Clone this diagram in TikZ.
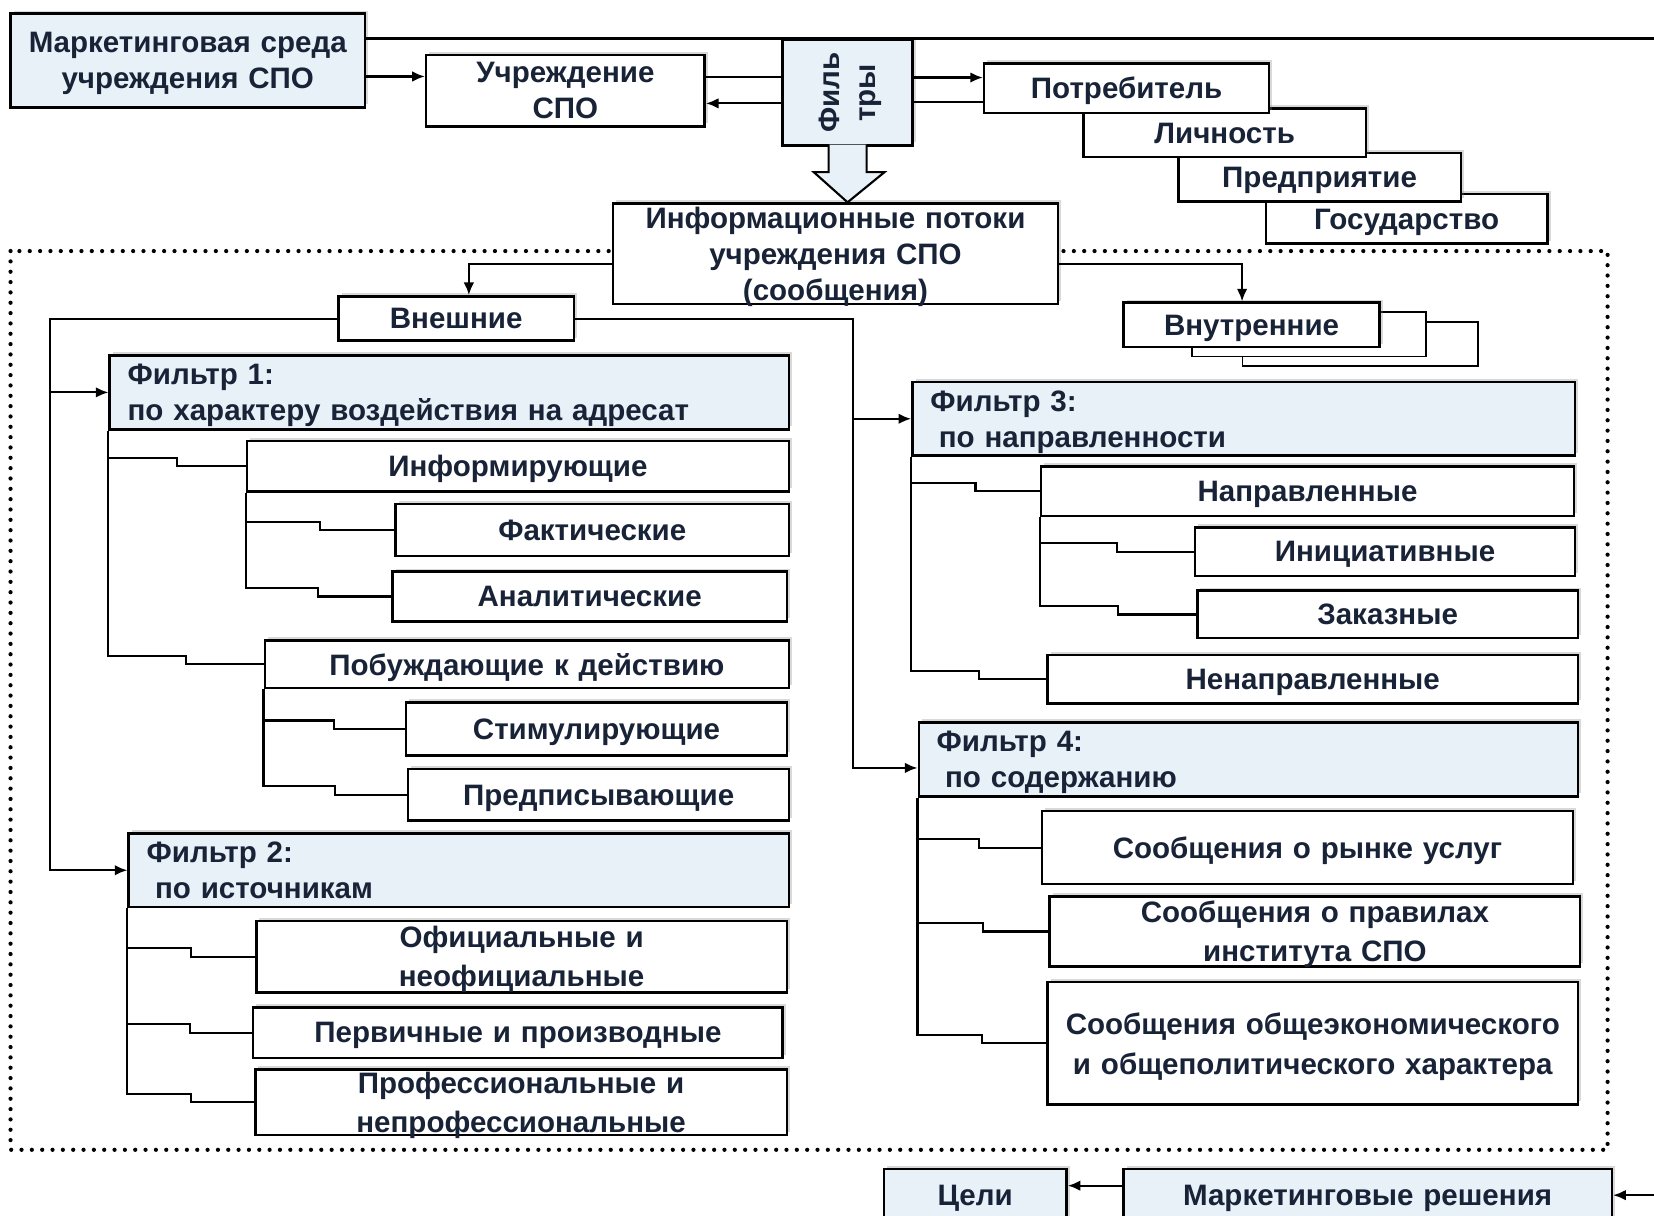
\documentclass[tikz,border=0pt]{standalone}
\usepackage{fontspec}
\setmainfont{Liberation Sans}
\usetikzlibrary{calc,shadows,arrows.meta}
\definecolor{ink}{RGB}{25,35,55}
\definecolor{paleblue}{RGB}{232,241,248}

\begin{document}
\begin{tikzpicture}[x=0.5pt,y=-0.5pt]

    \tikzstyle{box}=[draw=black, line width=1.2pt, fill=white, inner sep=0pt, align=center, text=ink,
        font=\fontsize{14}{17}\selectfont\bfseries, text depth=0pt,
        drop shadow={shadow xshift=1.5pt, shadow yshift=1.5pt, opacity=0.3}]
    \tikzstyle{two}=[text depth=17pt]
    \tikzstyle{twowide}=[text depth=18.5pt, font=\fontsize{14}{18.5}\selectfont\bfseries]
    \tikzstyle{three}=[text depth=34pt]
    \tikzstyle{hl}=[box, fill=paleblue]
    \tikzstyle{filterbox}=[hl, two, align=left, inner xsep=8.5pt]
    \tikzstyle{stackbox}=[draw=black, line width=0.8pt, fill=white]
    \tikzstyle{dotframe}=[draw=black, line width=2pt, line cap=round, dash pattern=on 0pt off 4.9pt]
    \tikzstyle{fwd}=[draw=black, line width=1pt, -{Latex[length=6pt,width=5pt]}]
    \tikzstyle{link}=[draw=black, line width=1pt]

    \def\branch#1#2{\draw[link] (#1) |- ($(#1 |- #2.west)!.5!(#2.west)+(0,-8)$) |- (#2.west);}

    \useasboundingbox (0,0) rectangle (1568,1152);
    \clip (0,0) rectangle (1568,1152);
    \coordinate (rim) at (1575,0);

    % frame round the message flows
    \draw[dotframe] (10,238) rectangle (1524,1090);

    \node[hl, two, text width=168pt, minimum height=44.5pt] (env) at (178,57.5) {Маркетинговая среда\\учреждения СПО};
    \node[box, two, text width=132pt, minimum height=34pt] (inst) at (536,86) {Учреждение\\СПО};
    \node[hl, two, rotate=90, text width=50pt, minimum height=61.5pt] (filt) at (803.5,88) {Филь\\тры};
    \node[box, three, text width=211pt, minimum height=47.5pt] (info) at (792,240.5) {Информационные потоки\\учреждения СПО\\(сообщения)};

    \node[box, text width=133.5pt, minimum height=23.5pt] (state) at (1333.5,207.5) {Государство};
    \node[box, text width=134pt, minimum height=23pt] (firm) at (1251,168) {Предприятие};
    \node[box, text width=134pt, minimum height=23pt] (pers) at (1161,126) {Личность};
    \node[box, text width=135pt, minimum height=23.5pt] (cons) at (1068,83.5) {Потребитель};

    \node[box, text width=111.5pt, minimum height=21pt] (ext) at (432.5,302) {Внешние};
    \draw[stackbox] (1178,305) rectangle (1401,347);
    \draw[stackbox] (1130,296) rectangle (1352,338);
    \node[box, text width=121.5pt, minimum height=21pt] (int) at (1186.5,308) {Внутренние};

    % filter 1
    \node[filterbox, text width=305pt, minimum height=35pt] (f1) at (426,372) {Фильтр 1:\\по характеру воздействия на адресат};
    \node[box, text width=257pt, minimum height=24pt] (inf) at (491,442) {Информирующие};
    \node[box, text width=186.5pt, minimum height=24.5pt] (fact) at (561.5,502.5) {Фактические};
    \node[box, text width=187pt, minimum height=23.5pt] (anal) at (559,565.5) {Аналитические};
    \node[box, text width=248.5pt, minimum height=22.5pt] (pob) at (499.5,629.5) {Побуждающие к действию};
    \node[box, text width=180.5pt, minimum height=25pt] (stim) at (565.5,691) {Стимулирующие};
    \node[box, text width=180.5pt, minimum height=24.5pt] (presc) at (567.5,753.5) {Предписывающие};

    % filter 2
    \node[filterbox, text width=296pt, minimum height=35pt] (f2) at (435,825) {Фильтр 2:\\\hspace*{4pt}по источникам};
    \node[box, twowide, text width=251.5pt, minimum height=34pt] (off) at (494.5,907) {Официальные и\\неофициальные};
    \node[box, text width=251pt, minimum height=24pt] (prim) at (491,979) {Первичные и производные};
    \node[box, twowide, text width=252pt, minimum height=31pt] (prof) at (494,1045) {Профессиональные и\\непрофессиональные};

    % filter 3
    \node[filterbox, text width=297pt, minimum height=35pt] (f3) at (1179,397) {Фильтр 3:\\\hspace*{4pt}по направленности};
    \node[box, text width=252.5pt, minimum height=23.5pt] (napr) at (1239.5,465.5) {Направленные};
    \node[box, text width=180pt, minimum height=23pt] (init) at (1313,523) {Инициативные};
    \node[box, text width=180.5pt, minimum height=22.5pt] (order) at (1315.5,582.5) {Заказные};
    \node[box, text width=251.5pt, minimum height=23pt] (nenapr) at (1244.5,644) {Ненаправленные};

    % filter 4
    \node[filterbox, text width=295.5pt, minimum height=35pt] (f4) at (1183.5,720) {Фильтр 4:\\\hspace*{4pt}по содержанию};
    \node[box, text width=251.5pt, minimum height=34.5pt] (mkt) at (1239.5,803.5) {Сообщения о рынке услуг};
    \node[box, twowide, text width=251.5pt, minimum height=33pt] (rules) at (1246.5,883) {Сообщения о правилах\\института СПО};
    \node[box, text depth=19pt, font=\fontsize{14}{19}\selectfont\bfseries, text width=251.5pt, minimum height=58pt] (gen) at (1244.5,989) {Сообщения общеэкономического\\и общеполитического характера};

    \node[hl, text width=86.5pt, minimum height=25pt] (goals) at (924.5,1133) {Цели};
    \node[hl, text width=231.5pt, minimum height=25pt] (dec) at (1296.5,1133) {Маркетинговые решения};

    % top links
    \coordinate (t0) at ($(env.east)+(0,-21)$);
    \coordinate (t1) at ($(env.east)+(0,15)$);
    \coordinate (t2) at ($(inst.east)+(0,-13)$);
    \coordinate (t3) at ($(inst.east)+(0,12)$);
    \coordinate (t4) at ($(cons.west)+(0,-10)$);
    \coordinate (t5) at ($(cons.west)+(0,13)$);
    \draw [link] (t0) -- (t0 -| rim);
    \draw [fwd] (t1) -- (t1 -| inst.west);
    \draw [link] (t2) -- (t2 -| filt.north);
    \draw [fwd] (t3 -| filt.north) -- (t3);
    \draw [fwd] (t4 -| filt.south) -- (t4);
    \draw [link] (t5 -| filt.south) -- (t5);

    % wide arrow from the filters
    \filldraw[draw=black, line width=1pt, fill=paleblue] ($(filt.west)+(-18,-2)$) -- ($(filt.west)+(-18,24)$)
        -- ($(filt.west)+(-32,24)$) -- (filt.west |- info.north) -- ($(filt.west)+(35,24)$)
        -- ($(filt.west)+(18,24)$) -- ($(filt.west)+(18,-2)$);

    \coordinate (s1) at ($(info.west)+(0,10)$);
    \coordinate (s2) at ($(info.east)+(0,10)$);
    \draw [fwd] (s1) -| ($(ext.north)+(12,0)$);
    \draw [fwd] (s2) -| ($(int.north)+(-9,0)$);

    \draw [fwd] (ext.west) -| ($(f2.west)+(-73,0)$) -- (f2.west);
    \draw [fwd] ($(f1.west)+(-55,0)$) -- (f1.west);
    \draw [fwd] (ext.east) -| ($(f4.west)+(-61,8)$) -- ($(f4.west)+(0,8)$);
    \draw [fwd] ($(f3.west)+(-55,0)$) -- (f3.west);

    \branch{f1.south west}{inf}
    \branch{f1.south west}{pob}
    \branch{inf.south west}{fact}
    \branch{inf.south west}{anal}
    \branch{pob.south west}{stim}
    \branch{pob.south west}{presc}
    \branch{f2.south west}{off}
    \branch{f2.south west}{prim}
    \branch{f2.south west}{prof}
    \branch{f3.south west}{napr}
    \branch{f3.south west}{nenapr}
    \branch{napr.south west}{init}
    \branch{napr.south west}{order}
    \branch{f4.south west}{mkt}
    \branch{f4.south west}{rules}
    \branch{f4.south west}{gen}

    \coordinate (b1) at ($(dec.west)+(0,-9)$);
    \draw [fwd] (b1) -- (b1 -| goals.east);
    \draw [fwd] (dec.east -| rim) -- (dec.east);

\end{tikzpicture}
\end{document}
